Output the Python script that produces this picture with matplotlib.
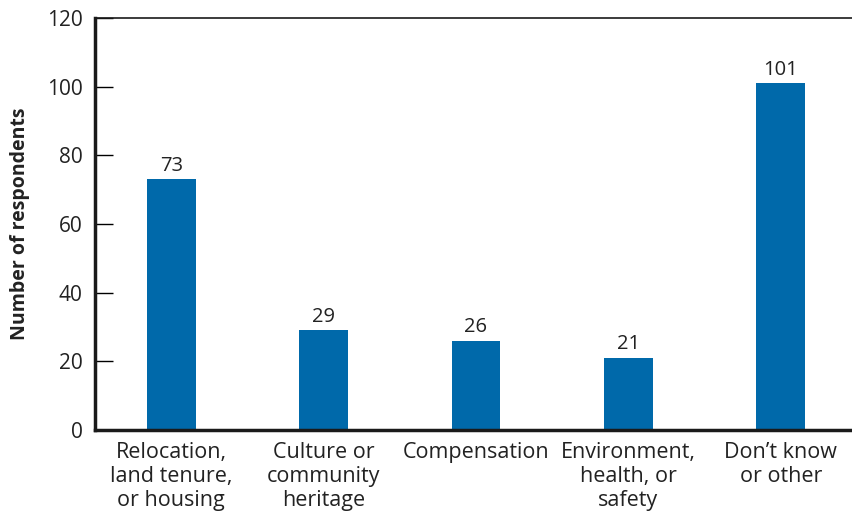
import numpy as np
import matplotlib.pyplot as plt

plt.rcParams['font.family'] = ['Open Sans', 'DejaVu Sans']

categories = ["Relocation,\nland tenure,\nor housing",
              "Culture or\ncommunity\nheritage",
              "Compensation",
              "Environment,\nhealth, or\nsafety",
              "Don\u2019t know\nor other"]
counts = [73, 29, 26, 21, 101]
yticks = [0, 20, 40, 60, 80, 100, 120]

fig = plt.figure(figsize=(8.53, 5.17), dpi=100)
ax = fig.add_axes([0.1114, 0.1683, 0.8886, 0.7969])

x = np.arange(len(categories))
bars = ax.bar(x, counts, width=0.32, color='#0069aa', zorder=2)

for xi, v in zip(x, counts):
    ax.text(xi, v + 1.0, str(v), ha='center', va='bottom', fontsize=14.5, color='#222222')

ax.set_xlim(-0.5, 4.474)
ax.set_ylim(0, 120)
ax.set_yticks(yticks)
ax.set_xticks(x)
ax.set_xticklabels(categories, fontsize=15.5, color='#222222', linespacing=1.17)
ax.tick_params(axis='x', length=0, pad=9)
ax.tick_params(axis='y', direction='in', length=13, width=1, labelsize=15,
               labelcolor='#222222', pad=9)
ax.set_ylabel('Number of respondents', fontsize=14, fontweight='bold', color='#222222', labelpad=12)

ax.spines['left'].set_linewidth(2.5)
ax.spines['bottom'].set_linewidth(2.5)
ax.spines['top'].set_linewidth(1.2)
ax.spines['right'].set_visible(False)
for s in ['left', 'bottom', 'top']:
    ax.spines[s].set_color('#1a1a1a')

fig.savefig('out.png', dpi=100)
